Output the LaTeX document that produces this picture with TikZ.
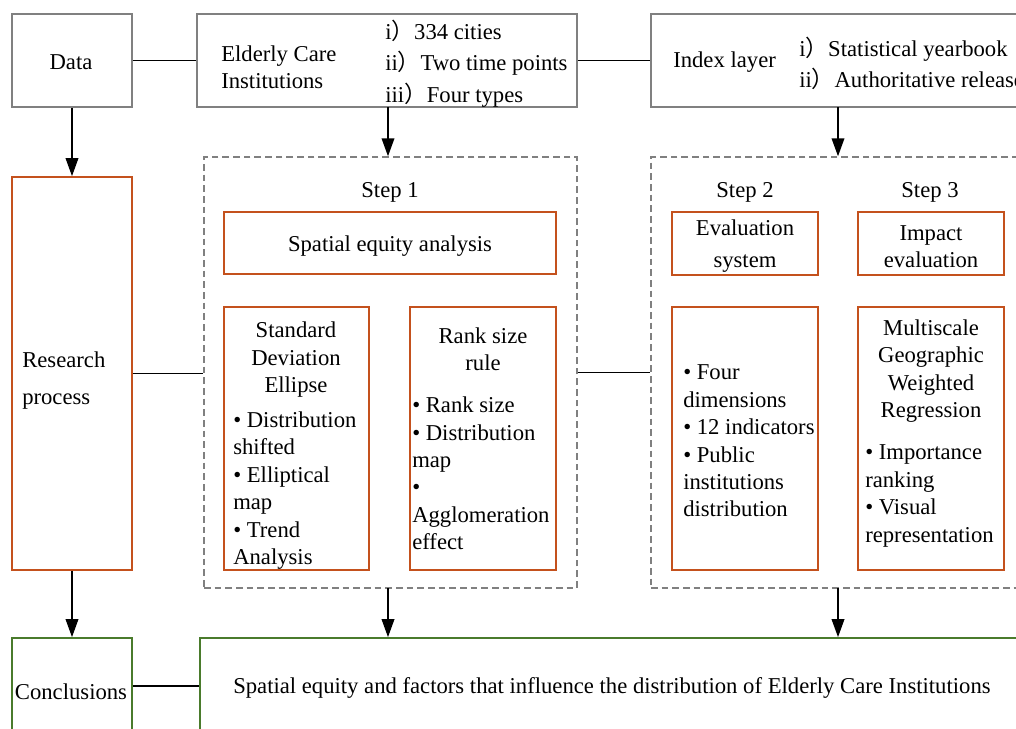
\documentclass[tikz,border=0pt]{standalone}
\usepackage{fontspec}
\setmainfont{Liberation Serif}
\newfontfamily\cjk{Noto Sans CJK SC}
\usetikzlibrary{arrows.meta,fit}
\definecolor{boxgray}{HTML}{808080}
\definecolor{orangec}{HTML}{C4511D}
\definecolor{greenc}{HTML}{4A7B2C}
\newcommand{\cp}{{\cjk ）}}
\tikzset{
  x=0.75pt, y=-0.75pt,
  every node/.style={inner sep=0pt},
  gbox/.style={draw=boxgray, line width=1.3pt, inner sep=0pt},
  obox/.style={draw=orangec, line width=1.3pt, inner sep=0pt},
  cbox/.style={draw=greenc, line width=1.3pt, inner sep=0pt},
  dbox/.style={draw=boxgray, line width=1.1pt, dash pattern=on 5pt off 3pt, inner sep=0pt},
  txt/.style={font=\fontsize{17}{20.6}\selectfont},
  ltxt/.style={txt, align=left, anchor=west},
  ctxt/.style={txt, align=center},
  conn/.style={draw=black, line width=1.1pt},
  arr/.style={conn, -{Triangle[length=13.5pt,width=9.5pt]}},
}
\begin{document}
\begin{tikzpicture}
\useasboundingbox (0,0) rectangle (1016,728);
\fill[white] (0,0) rectangle (1016,728);
\clip (0,0) rectangle (1016,728);
% boxes
\node[gbox, fit={(12,14) (132,107)}] (data) {};
\node[gbox, fit={(197,14) (577,107)}] (eci) {};
\node[gbox, fit={(651,14) (1030,107)}] (idx) {};
\node[obox, fit={(12,177) (132,570)}] (rp) {};
\node[dbox, fit={(204,157) (577,588)}] (d1) {};
\node[dbox, fit={(651,157) (1030,588)}] (d2) {};
\node[obox, fit={(224,212) (556,274)}] (sea) {};
\node[obox, fit={(224,307) (369,570)}] (sde) {};
\node[obox, fit={(410,307) (556,570)}] (rsr) {};
\node[obox, fit={(672,212) (818,275)}] (evs) {};
\node[obox, fit={(858,212) (1004,275)}] (imp) {};
\node[obox, fit={(672,307) (818,570)}] (fd) {};
\node[obox, fit={(858,307) (1004,570)}] (mg) {};
\node[cbox, fit={(12,638) (132,734)}] (con) {};
\node[cbox, fit={(200,638) (1030,734)}] (big) {};
% texts
\node[ctxt] (tdata) at (71,62) {Data};
\node[ltxt] (teci) at (221,67) {Elderly Care\\Institutions};
\node[ltxt, font=\fontsize{17}{23.5}\selectfont] (teci2) at (385,63.5) {i\cp 334 cities\\ii\cp Two time points\\iii\cp Four types};
\node[ltxt] (tidx) at (673,62.5) {Index layer};
\node[ltxt, font=\fontsize{17}{23.3}\selectfont] (tidx2) at (799,63) {i\cp Statistical yearbook\\ii\cp Authoritative release};
\node[ltxt, font=\fontsize{17}{27.7}\selectfont] (trp) at (22,380.5) {Research\\process};
\node[ctxt] (ts1) at (390,192) {Step 1};
\node[ctxt] (tsea) at (390,246) {Spatial equity analysis};
\node[ctxt] (tsde1) at (296,360) {Standard\\Deviation\\Ellipse};
\node[ltxt] (tsde2) at (233,490.5) {• Distribution\\shifted\\• Elliptical\\map\\• Trend\\Analysis};
\node[ctxt] (trs1) at (483,349.5) {Rank size\\rule};
\node[ltxt] (trs2) at (412,473.5) {• Rank size\\• Distribution\\map\\•\\Agglomeration\\effect};
\node[ctxt] (ts2) at (745,192) {Step 2};
\node[ctxt] (ts3) at (930,192) {Step 3};
\node[ctxt, font=\fontsize{17}{24}\selectfont] (tev) at (745,246) {Evaluation\\system};
\node[ctxt] (tim) at (931,246.5) {Impact\\evaluation};
\node[ltxt] (tfd) at (683,441) {• Four\\dimensions\\• 12 indicators\\• Public\\institutions\\distribution};
\node[ctxt] (tmg1) at (931,371) {Multiscale\\Geographic\\Weighted\\Regression};
\node[ltxt] (tmg2) at (865,496) {• Importance\\ranking\\• Visual\\representation};
\node[ctxt] (tcon) at (71,692) {Conclusions};
\node[ltxt] (tbig) at (233,688) {Spatial equity and factors that influence the distribution of Elderly Care Institutions};
% connectors
\coordinate (a2) at (388,107);
\coordinate (a3) at (838,107);
\coordinate (b2) at (388,588);
\coordinate (b3) at (838,588);
\draw[conn] (data.east) -- (eci.west);
\draw[conn] (eci.east) -- (eci.east -| idx.west);
\draw[arr] (data.south) -- (rp.north);
\draw[arr] (a2) -- (a2 |- d1.north);
\draw[arr] (a3) -- (a3 |- d2.north);
\draw[conn] (rp.east) -- (rp.east -| d1.west);
\draw[conn] (d1.east) -- (d1.east -| d2.west);
\draw[arr] (rp.south) -- (con.north);
\draw[arr] (b2) -- (b2 |- big.north);
\draw[arr] (b3) -- (b3 |- big.north);
\draw[conn] (con.east) -- (big.west);
\end{tikzpicture}
\end{document}
